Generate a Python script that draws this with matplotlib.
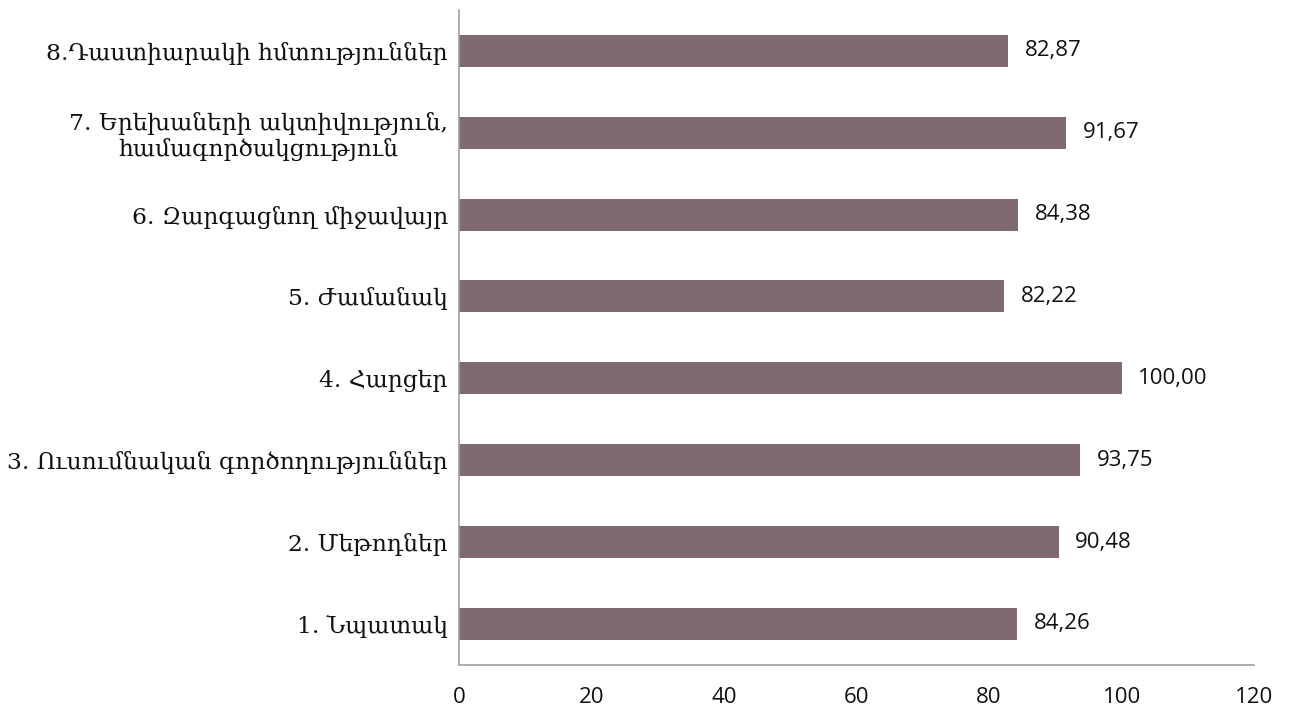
import matplotlib
matplotlib.use('Agg')
import matplotlib.pyplot as plt

labels = ['1. Նպատակ',
          '2. Մեթոդներ',
          '3. Ուսումնական գործողություններ',
          '4. Հարցեր',
          '5. Ժամանակ',
          '6. Զարգացնող միջավայր',
          '7. Երեխաների ակտիվություն,\nհամագործակցություն',
          '8.Դաստիարակի հմտություններ']
values = [84.26, 90.48, 93.75, 100.00, 82.22, 84.38, 91.67, 82.87]
xticks = [0, 20, 40, 60, 80, 100, 120]

fig = plt.figure(figsize=(12.89, 7.11), dpi=100)
ax = fig.add_axes([0.356, 0.065, 0.617, 0.921])

pos = list(range(len(values)))
ax.barh(pos, values, height=0.39, color='#7e6a6f')

for p, v in zip(pos, values):
    ax.annotate(('%.2f' % v).replace('.', ','), (v, p), xytext=(12, 0),
                textcoords='offset points', va='center', ha='left',
                fontsize=16, family='Open Sans', color='#111111')

ax.set_xlim(0, 120)
ax.set_ylim(-0.5, 7.5)
ax.set_yticks(pos)
ax.set_yticklabels(labels, family='DejaVu Serif', fontsize=16.8, ha='right',
                   multialignment='center', linespacing=1.15)
ax.set_xticks(xticks)
ax.set_xticklabels([str(t) for t in xticks], family='Open Sans', fontsize=16)
ax.tick_params(axis='both', length=0, colors='#111111')
ax.tick_params(axis='x', pad=16)
ax.tick_params(axis='y', pad=8)

for s in ['top', 'right']:
    ax.spines[s].set_visible(False)
for s in ['left', 'bottom']:
    ax.spines[s].set_color('#a0a0a0')
    ax.spines[s].set_linewidth(1.2)

fig.savefig('out.png', dpi=100)
